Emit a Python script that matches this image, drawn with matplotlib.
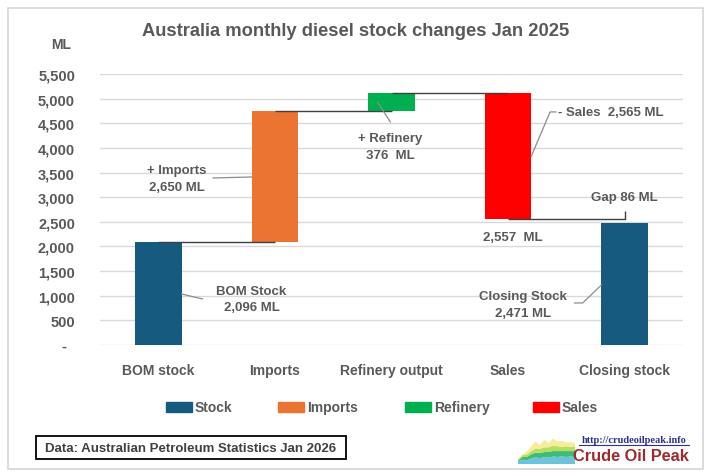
import matplotlib
matplotlib.use('Agg')
import matplotlib.pyplot as plt
from matplotlib.patches import Rectangle
from matplotlib.lines import Line2D
from matplotlib.ticker import FuncFormatter

# ---------------- data ----------------
categories = ['BOM stock', 'Imports', 'Refinery output', 'Sales', 'Closing stock']
bom_stock = 2096
imports = 2650
refinery = 376
sales = 2565
closing_stock = 2471
yticks = list(range(0, 5501, 500))
legend_labels = ['Stock', 'Imports', 'Refinery', 'Sales']
title = 'Australia monthly diesel stock changes Jan 2025'
source = 'Data: Australian Petroleum Statistics Jan 2026'

# logo decoration (small stacked area icon)
logo_x = list(range(14))
logo_l1 = [0.5, 0.8, 0.7, 1.0, 1.2, 1.1, 1.3, 1.2, 1.4, 1.3, 1.4, 1.3, 1.4, 1.3]
logo_l2 = [0.2, 0.5, 0.6, 0.8, 0.9, 1.0, 0.9, 1.1, 1.0, 1.1, 1.0, 1.1, 1.0, 1.1]
logo_l3 = [0.1, 0.3, 0.5, 0.6, 0.8, 0.7, 0.9, 0.8, 1.0, 0.9, 0.8, 0.9, 0.8, 0.9]
logo_l4 = [0.1, 0.2, 0.5, 0.9, 1.3, 0.7, 1.4, 0.8, 1.3, 0.9, 1.1, 0.7, 0.9, 0.5]

# derived waterfall levels
after_imports = bom_stock + imports
after_refinery = after_imports + refinery
after_sales = after_refinery - sales
gap = after_sales - closing_stock

c_stock = '#175A80'
c_imp = '#EC7433'
c_ref = '#00B050'
c_sales = '#FF0000'
txt = '#595959'

FONT = ['Liberation Sans', 'DejaVu Sans']
plt.rcParams['font.family'] = FONT

W, H = 710, 477
fig = plt.figure(figsize=(7.1, 4.77), dpi=100)


def fx(px):
    return px / W


def fy(py):
    return 1 - py / H


# outer frame
fig.add_artist(Rectangle((fx(8), fy(470)), (703 - 8) / W, (470 - 9) / H,
                         transform=fig.transFigure, fill=False,
                         ec='#D6D6D6', lw=1.2))

ax = fig.add_axes([fx(100), fy(346), (683 - 100) / W, (346 - 75) / H])

xs = list(range(len(categories)))
bottoms = [0, bom_stock, after_imports, after_sales, 0]
heights = [bom_stock, imports, refinery, sales, closing_stock]
colors = [c_stock, c_imp, c_ref, c_sales, c_stock]
ax.bar(xs, heights, bottom=bottoms, width=0.4, color=colors, zorder=3)

ax.set_xlim(-0.5, 4.5)
ax.set_ylim(0, 5500)
ax.set_yticks(yticks)
ax.yaxis.set_major_formatter(FuncFormatter(lambda v, p: '-  ' if v == 0 else f'{int(v):,}'))
ax.set_xticks(xs)
ax.set_xticklabels(categories)
for s in ax.spines.values():
    s.set_visible(False)
ax.grid(axis='y', color='#D9D9D9', lw=1, zorder=0)
ax.set_axisbelow(True)
ax.tick_params(axis='y', length=0, pad=18, labelsize=10.5, labelcolor=txt)
ax.tick_params(axis='x', length=0, pad=13, labelsize=10, labelcolor=txt)
for lab in ax.get_yticklabels() + ax.get_xticklabels():
    lab.set_fontweight('bold')

# connectors
con = dict(color='#404040', lw=1.0, zorder=4, solid_capstyle='butt')
ax.plot([0, 1], [bom_stock, bom_stock], **con)
ax.plot([1, 2], [after_imports, after_imports], **con)
ax.plot([2, 3], [after_refinery, after_refinery], **con)
ax.plot([3, 4, 4], [after_sales, after_sales, after_sales + 165], **con)

# annotations
ann = dict(color=txt, fontsize=9.5, fontweight='bold', linespacing=1.5, zorder=5)
lead = dict(color='#8C8C8C', lw=0.9, zorder=4)

ax.text(0.16, 3380, f'+ Imports\n{imports:,} ML', ha='center', va='center', **ann)
ax.plot([0.47, 0.8], [3390, 3410], **lead)

ax.text(0.8, 934, f'BOM Stock\n{bom_stock:,} ML', ha='center', va='center', **ann)
ax.plot([0.2, 0.38], [1035, 934], **lead)

ax.text(1.99, 4030, f'+ Refinery\n{refinery}  ML', ha='center', va='center', **ann)
ax.plot([1.88, 1.99], [4933, 4527], **lead)

ax.text(3.43, 4730, f'- Sales  {sales:,} ML', ha='left', va='center', **ann)
ax.plot([3.2, 3.36, 3.41], [3837, 4730, 4730], **lead)

ax.text(4.0, 3004, f'Gap {gap} ML', ha='center', va='center', **ann)
ax.text(3.04, 2192, f'{after_sales:,}  ML', ha='center', va='center', **ann)

ax.text(3.13, 822, f'Closing Stock\n{closing_stock:,} ML', ha='center', va='center', **ann)
ax.plot([3.57, 3.64, 3.8], [853, 853, 1218], **lead)

# title and unit
fig.text(fx(356), fy(31), title, ha='center', va='center', fontsize=13.2,
         fontweight='bold', color=txt)
fig.text(fx(61), fy(45), 'ML', ha='center', va='center', fontsize=10,
         fontweight='bold', color=txt)

# legend (manual)
leg_colors = [c_stock, c_imp, c_ref, c_sales]
leg_x = [166, 278, 405, 533]
for lx, col, lab in zip(leg_x, leg_colors, legend_labels):
    fig.add_artist(Rectangle((fx(lx), fy(413)), 26 / W, 10 / H,
                             transform=fig.transFigure, color=col))
    fig.text(fx(lx + 29), fy(408), lab, ha='left', va='center',
             fontsize=10, fontweight='bold', color=txt)

# source box
fig.add_artist(Rectangle((fx(36), fy(460)), (346 - 36) / W, (460 - 437) / H,
                         transform=fig.transFigure, fill=False, ec='black', lw=1.3))
fig.text(fx(191), fy(449), source, ha='center', va='center', fontsize=9.5,
         fontweight='bold', color='#404040')

# logo
lax = fig.add_axes([fx(518), fy(465), 57 / W, 28 / H])
lax.stackplot(logo_x, logo_l1, logo_l2, logo_l3, logo_l4,
              colors=['#6EC3DC', '#3DBB78', '#B5DE5E', '#F6EC9A'], lw=0)
lax.set_xlim(0, 13)
lax.set_ylim(0, 5.2)
lax.axis('off')
fig.text(fx(634), fy(441), 'http://crudeoilpeak.info', ha='center', va='center',
         fontsize=7.5, fontweight='bold', color='#2E3192',
         family=['Liberation Serif', 'DejaVu Serif'])
fig.add_artist(Line2D([fx(579), fx(689)], [fy(446), fy(446)],
                      transform=fig.transFigure, color='#2E3192', lw=0.8))
fig.text(fx(631), fy(457), 'Crude Oil Peak', ha='center', va='center',
         fontsize=11.8, fontweight='bold', color='#9E2A2B',
         family=['Liberation Sans Narrow', 'Liberation Sans', 'DejaVu Sans'])

fig.savefig('out.png', dpi=100)
